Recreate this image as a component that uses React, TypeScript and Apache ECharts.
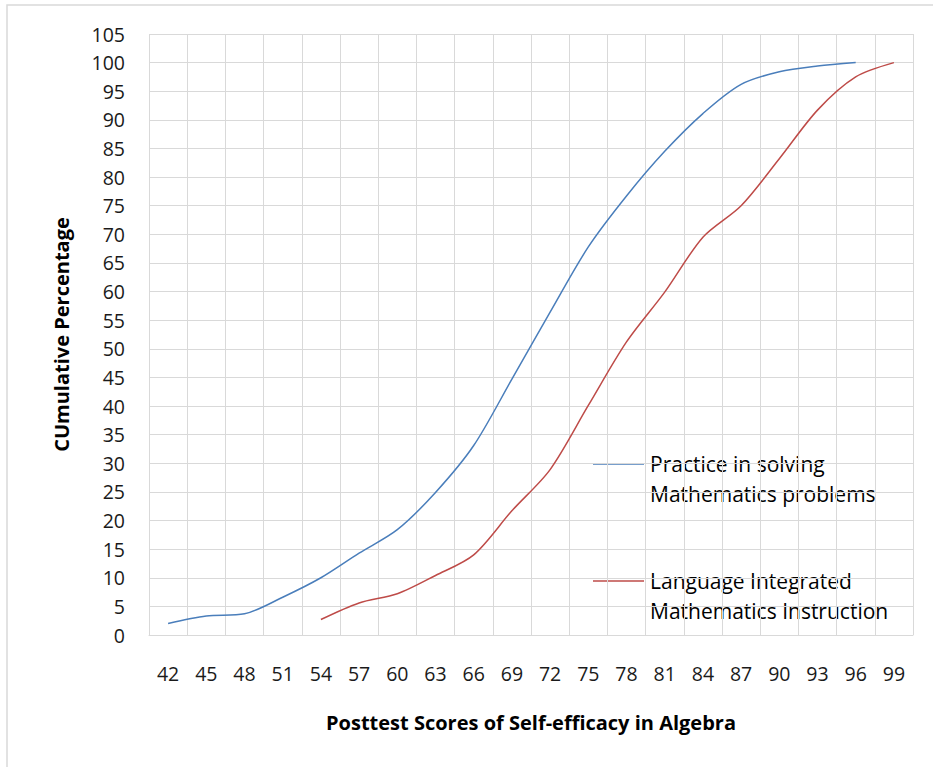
import React, { useEffect, useRef } from "react";
import * as echarts from "echarts";

const categories = ["42", "45", "48", "51", "54", "57", "60", "63", "66", "69", "72", "75", "78", "81", "84", "87", "90", "93", "96", "99"];
const practiceValues = [2, 3.3, 3.7, 6.6, 10, 14.3, 18.4, 24.9, 33.1, 44.7, 56.4, 67.8, 76.7, 84.5, 91.1, 96.2, 98.4, 99.4, 100, null];
const languageValues = [null, null, null, null, 2.7, 5.6, 7.2, 10.4, 14, 21.7, 28.9, 40.1, 51.2, 59.9, 69.5, 75, 83.2, 91.7, 97.5, 100];
const seriesNames = ["Practice in solving Mathematics problems", "Language Integrated Mathematics Instruction"];
const legendLines = [
  ["Practice in solving", "Mathematics problems"],
  ["Language Integrated", "Mathematics Instruction"],
];
const colors = ["#4a7ebb", "#be4b48"];

const FONT = "'Open Sans', 'Liberation Sans', sans-serif";

export default function App() {
  const ref = useRef<HTMLDivElement>(null);
  useEffect(() => {
    document.body.style.margin = "0";
    if (!ref.current) return;
    const chart = echarts.init(ref.current, null, { renderer: "svg" });
    chart.setOption({
      animation: false,
      backgroundColor: "#ffffff",
      textStyle: { fontFamily: FONT },
      grid: { left: 149, right: 20, top: 34, bottom: 132, containLabel: false },
      xAxis: {
        type: "category",
        data: categories,
        boundaryGap: true,
        axisTick: { show: false },
        axisLine: { show: true, lineStyle: { color: "#d9d9d9", width: 1 } },
        axisLabel: { color: "#1a1a1a", fontSize: 19.5, margin: 28, fontFamily: FONT, interval: 0 },
        splitLine: { show: true, lineStyle: { color: "#d9d9d9", width: 1 } },
        name: "Posttest Scores of Self-efficacy in Algebra",
        nameLocation: "middle",
        nameGap: 77,
        nameTextStyle: { color: "#000", fontSize: 20, fontWeight: "bold", fontFamily: FONT },
      },
      yAxis: {
        type: "value",
        min: 0,
        max: 105,
        interval: 5,
        axisLine: { show: false },
        axisTick: { show: false },
        axisLabel: { color: "#1a1a1a", fontSize: 19.5, margin: 24, fontFamily: FONT },
        splitLine: { show: true, lineStyle: { color: "#d9d9d9", width: 1 } },
        name: "CUmulative Percentage",
        nameLocation: "middle",
        nameGap: 78,
        nameTextStyle: { color: "#000", fontSize: 20, fontWeight: "bold", fontFamily: FONT },
      },
      series: [
        {
          name: seriesNames[0],
          type: "line",
          data: practiceValues,
          smooth: 0.3,
          showSymbol: false,
          lineStyle: { color: colors[0], width: 1.5 },
          itemStyle: { color: colors[0] },
        },
        {
          name: seriesNames[1],
          type: "line",
          data: languageValues,
          smooth: 0.3,
          showSymbol: false,
          lineStyle: { color: colors[1], width: 1.5 },
          itemStyle: { color: colors[1] },
        },
      ],
      graphic: [
        {
          type: "rect",
          shape: { x: 7, y: 5, width: 960, height: 800 },
          style: { fill: "none", stroke: "#d9d9d9", lineWidth: 1.5 },
          silent: true,
          z: -1,
        },
        {
          type: "line",
          shape: { x1: 593, y1: 464, x2: 644, y2: 464 },
          style: { stroke: colors[0], lineWidth: 1.5 },
        },
        {
          type: "text",
          x: 650,
          y: 464,
          style: {
            text: legendLines[0].join("\n"),
            fontSize: 21,
            lineHeight: 30,
            fontFamily: FONT,
            fill: "#000",
            verticalAlign: "top",
            y: -15,
          },
        },
        {
          type: "line",
          shape: { x1: 593, y1: 581, x2: 644, y2: 581 },
          style: { stroke: colors[1], lineWidth: 1.5 },
        },
        {
          type: "text",
          x: 650,
          y: 581,
          style: {
            text: legendLines[1].join("\n"),
            fontSize: 21,
            lineHeight: 30,
            fontFamily: FONT,
            fill: "#000",
            verticalAlign: "top",
            y: -15,
          },
        },
      ],
    });
    return () => chart.dispose();
  }, []);
  return <div ref={ref} style={{ width: 933, height: 767 }} />;
}
